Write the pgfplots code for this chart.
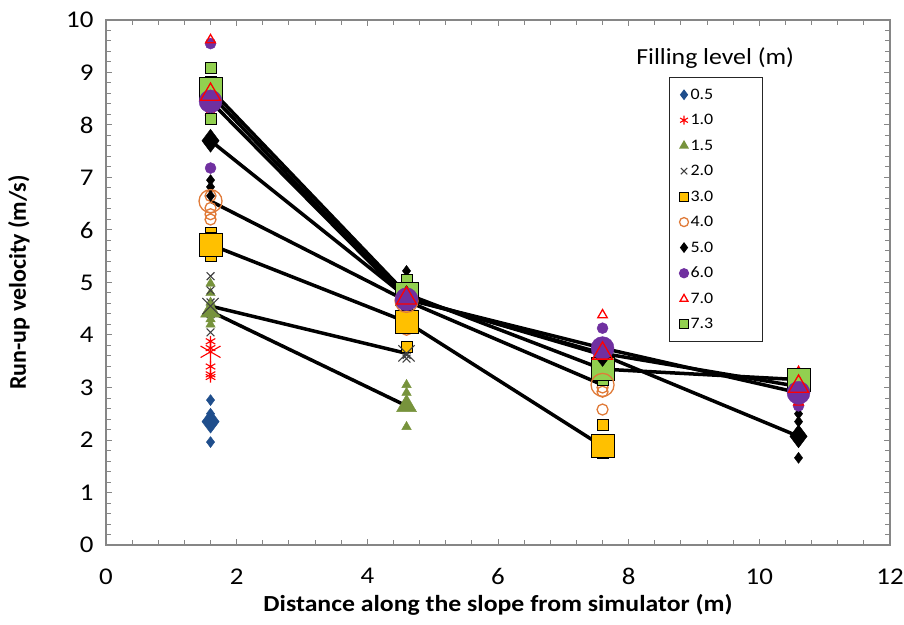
\documentclass[border=0pt]{standalone}
\usepackage{fontspec}
\setmainfont{Carlito}[FakeStretch=1.12]
\newfontfamily\uprightfont{Carlito}
\usepackage{pgfplots}
\pgfplotsset{compat=1.18}

\definecolor{c05}{HTML}{1F4E8C}
\definecolor{c10}{HTML}{FF0000}
\definecolor{c15}{HTML}{77933C}
\definecolor{c20}{HTML}{404040}
\definecolor{c30}{HTML}{FFC000}
\definecolor{c40}{HTML}{E07B39}
\definecolor{c60}{HTML}{7030A0}
\definecolor{c73}{HTML}{92D050}
\definecolor{axgray}{HTML}{868686}

% marker styles for each filling level
\pgfplotsset{
  s05/.style={only marks, mark=diamond*, color=c05},
  s10/.style={only marks, mark=asterisk, color=c10, mark options={line width=1.1pt}},
  s15/.style={only marks, mark=triangle*, color=c15},
  s20/.style={only marks, mark=x, color=c20, mark options={line width=1.1pt}},
  s30/.style={only marks, mark=square*, mark options={fill=c30, draw=black, line width=1pt}},
  s40/.style={only marks, mark=o, color=c40, mark options={line width=1.3pt}},
  s50/.style={only marks, mark=diamond*, color=black},
  s60/.style={only marks, mark=*, color=c60},
  s70/.style={only marks, mark=triangle, color=c10, mark options={line width=1.3pt}},
  s73/.style={only marks, mark=square*, mark options={fill=c73, draw=black, line width=1pt}},
  small/.style={mark size=5.5pt},
  big/.style={mark size=11.5pt},
  mean/.style={black, line width=3.5pt, no markers, forget plot},
}
\newcommand{\entry}[1]{\makebox[60pt][l]{#1}}

\begin{document}
\begin{tikzpicture}
\begin{axis}[
  scale only axis,
  width=784pt, height=525pt,
  xmin=0, xmax=12, ymin=0, ymax=10,
  xtick={0,2,...,12}, ytick={0,1,...,10},
  minor x tick num=4, minor y tick num=4,
  tick align=inside,
  major tick length=6pt, minor tick length=5pt,
  axis line style={axgray, line width=1.3pt},
  every tick/.style={axgray, line width=1pt},
  /pgf/number format/assume math mode=true,
  ticklabel style={font=\fontsize{24}{28}\selectfont, text=black},
  xticklabel style={yshift=-20pt},
  yticklabel style={xshift=-9pt},
  xlabel={\textbf{Distance along the slope from simulator (m)}},
  ylabel={\uprightfont\bfseries Run-up velocity (m/s)},
  xlabel style={font=\fontsize{23}{27}\selectfont, at={(axis description cs:0.5,-0.114)}, anchor=center},
  ylabel style={font=\fontsize{24}{28}\selectfont, at={(axis description cs:-0.111,0.5)}, anchor=center},
  legend style={at={(rel axis cs:0.718,0.891)}, anchor=north west,
    draw=black!85, line width=1.2pt, font=\fontsize{16}{18}\selectfont,
    row sep=9.6pt, inner xsep=10pt, inner ysep=9pt},
  legend cell align=left,
  clip=false,
]

% averaged run-up velocity, joined per filling level
\addplot[mean] coordinates {(1.6,4.45)(4.6,2.65)};
\addplot[mean] coordinates {(1.6,4.55)(4.6,3.65)};
\addplot[mean] coordinates {(1.6,5.72)(4.6,4.25)(7.6,1.88)};
\addplot[mean] coordinates {(1.6,6.55)(4.6,4.65)(7.6,3.05)};
\addplot[mean] coordinates {(1.6,7.70)(4.6,4.72)(7.6,3.62)(10.6,2.07)};
\addplot[mean] coordinates {(1.6,8.45)(4.6,4.68)(7.6,3.75)(10.6,2.90)};
\addplot[mean] coordinates {(1.6,8.58)(4.6,4.70)(7.6,3.65)(10.6,3.02)};
\addplot[mean] coordinates {(1.6,8.68)(4.6,4.78)(7.6,3.35)(10.6,3.15)};

% individual measurements
\addplot[s05, small, forget plot] coordinates {(1.6,2.76)(1.6,2.50)(1.6,2.28)(1.6,1.96)};
\addplot[s10, small, forget plot] coordinates {(1.6,3.88)(1.6,3.75)(1.6,3.40)(1.6,3.25)(1.6,3.20)};
\addplot[s15, small, forget plot] coordinates {(1.6,4.98)(1.6,4.80)(1.6,4.62)(1.6,4.30)(1.6,4.20)(4.6,3.05)(4.6,2.90)(4.6,2.25)};
\addplot[s20, small, forget plot] coordinates {(1.6,5.12)(1.6,4.85)(1.6,4.62)(1.6,4.40)(1.6,4.05)(4.6,3.72)(4.6,3.62)(4.6,3.55)};
\addplot[s30, small, forget plot] coordinates {(1.6,5.95)(1.6,5.85)(1.6,5.60)(1.6,5.50)(4.6,4.50)(4.6,4.20)(4.6,3.77)(7.6,2.29)(7.6,1.90)(7.6,1.75)};
\addplot[s40, small, forget plot] coordinates {(1.6,6.65)(1.6,6.42)(1.6,6.30)(1.6,6.20)(4.6,4.80)(4.6,4.60)(4.6,4.10)(7.6,3.25)(7.6,3.00)(7.6,2.92)(7.6,2.58)};
\addplot[s50, small, forget plot] coordinates {(1.6,8.30)(1.6,6.95)(1.6,6.82)(1.6,6.65)(4.6,5.22)(4.6,4.62)(4.6,4.40)(7.6,3.78)(7.6,3.50)(10.6,2.50)(10.6,2.35)(10.6,1.66)};
\addplot[s60, small, forget plot] coordinates {(1.6,9.55)(1.6,8.60)(1.6,7.18)(4.6,4.90)(4.6,4.60)(7.6,4.13)(7.6,3.60)(10.6,3.10)(10.6,2.65)};
\addplot[s70, small, forget plot] coordinates {(1.6,9.62)(1.6,8.78)(1.6,8.25)(4.6,4.88)(4.6,4.55)(7.6,4.38)(7.6,3.70)(7.6,3.30)(10.6,3.30)(10.6,2.72)};
\addplot[s73, small, forget plot] coordinates {(1.6,9.08)(1.6,8.82)(1.6,8.12)(4.6,5.05)(4.6,4.42)(7.6,3.50)(7.6,3.15)(10.6,3.22)(10.6,2.97)};

% averages
\addplot[s73, big, forget plot] coordinates {(1.6,8.68)(4.6,4.78)(7.6,3.35)(10.6,3.15)};
\addplot[s05, big, forget plot] coordinates {(1.6,2.35)};
\addplot[s10, big, forget plot] coordinates {(1.6,3.68)};
\addplot[s15, big, forget plot] coordinates {(1.6,4.45)(4.6,2.65)};
\addplot[s20, big, forget plot] coordinates {(1.6,4.55)(4.6,3.65)};
\addplot[s30, big, forget plot] coordinates {(1.6,5.72)(4.6,4.25)(7.6,1.88)};
\addplot[s40, big, forget plot] coordinates {(1.6,6.55)(4.6,4.65)(7.6,3.05)};
\addplot[s50, big, forget plot] coordinates {(1.6,7.70)(4.6,4.72)(7.6,3.62)(10.6,2.07)};
\addplot[s60, big, forget plot] coordinates {(1.6,8.45)(4.6,4.68)(7.6,3.75)(10.6,2.90)};
\addplot[s70, big, forget plot] coordinates {(1.6,8.58)(4.6,4.70)(7.6,3.65)(10.6,3.02)};

% legend
\addlegendimage{s05, mark size=4.5pt}\addlegendentry{\entry{0.5}}
\addlegendimage{s10, mark size=4.5pt}\addlegendentry{\entry{1.0}}
\addlegendimage{s15, mark size=4.5pt}\addlegendentry{\entry{1.5}}
\addlegendimage{s20, mark size=4.5pt}\addlegendentry{\entry{2.0}}
\addlegendimage{s30, mark size=4.5pt}\addlegendentry{\entry{3.0}}
\addlegendimage{s40, mark size=4.5pt}\addlegendentry{\entry{4.0}}
\addlegendimage{s50, mark size=4.5pt}\addlegendentry{\entry{5.0}}
\addlegendimage{s60, mark size=4.5pt}\addlegendentry{\entry{6.0}}
\addlegendimage{s70, mark size=4.5pt}\addlegendentry{\entry{7.0}}
\addlegendimage{s73, mark size=4.5pt}\addlegendentry{\entry{7.3}}

\node[font=\fontsize{23}{27}\selectfont, anchor=center] at (rel axis cs:0.777,0.928) {Filling level (m)};
\end{axis}
\pgfresetboundingbox
\path ([xshift=-106pt,yshift=-79pt]current axis.south west) rectangle ([xshift=14pt,yshift=20pt]current axis.north east);
\end{tikzpicture}
\end{document}
